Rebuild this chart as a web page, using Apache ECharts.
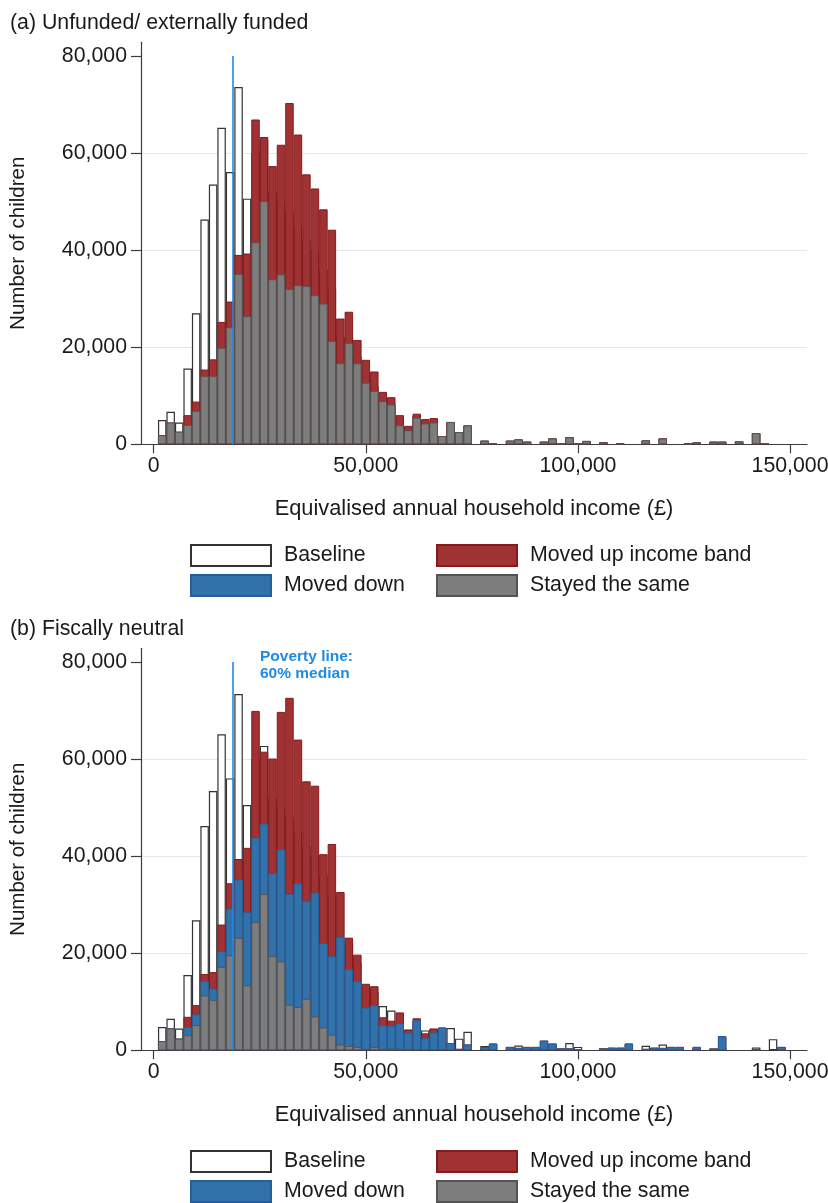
<!DOCTYPE html>
<html><head><meta charset="utf-8">
<script src="https://cdn.jsdelivr.net/npm/echarts@6/dist/echarts.min.js"></script>
<style>html,body{margin:0;padding:0;background:#fff}#c{width:828px;height:1203px}</style>
</head><body><div id="c"></div>
<script>
// Bin centres (£), bin width 2,000
const binCenters = [2000,4000,6000,8000,10000,12000,14000,16000,18000,20000,22000,24000,26000,28000,30000,32000,34000,36000,38000,40000,42000,44000,46000,48000,50000,52000,54000,56000,58000,60000,62000,64000,66000,68000,70000,72000,74000,76000,78000,80000,82000,84000,86000,88000,90000,92000,94000,96000,98000,100000,102000,104000,106000,108000,110000,112000,114000,116000,118000,120000,122000,124000,126000,128000,130000,132000,134000,136000,138000,140000,142000,144000,146000,148000,150000];
const binWidth = 2000;
const povertyLine = 18600;
const xTicks = [0, 50000, 100000, 150000];
const yTicks = [0, 20000, 40000, 60000, 80000];

// Panel (a) Unfunded / externally funded
const baselineA = [5000,6700,4500,15600,27000,46300,53500,65200,56100,73600,50600,60000,62700,52000,50000,48000,45000,42000,40000,36000,32000,22000,22000,18000,14000,12000,9100,8200,5500,3500,5800,4100,4500,1700,4500,2400,3800,0,750,200,0,750,1000,550,0,550,1200,100,1450,150,700,0,400,0,200,0,0,800,0,1200,0,0,150,400,0,550,550,0,600,0,2300,250,0,0,0];
const stayedA = [1900,4500,2600,4000,6900,14100,14100,19900,24100,35100,26400,41600,50100,34000,35000,32000,32800,32600,30700,29000,21300,16700,20900,16700,12700,11000,8900,8200,3900,2900,5500,4300,4500,1700,4600,2500,3900,0,750,200,0,750,1000,550,0,550,1200,100,1450,150,700,0,400,0,200,0,0,800,0,1200,0,0,150,400,0,550,550,0,600,0,2300,250,0,0,0];
const movedUpA = [0,0,0,2000,1900,1300,3400,5300,5300,3900,12900,25300,13200,23300,26700,38300,31000,23000,22000,19400,22900,9200,6400,4800,4700,4000,1900,1500,2100,900,800,900,900,0,0,0,0,0,0,0,0,0,0,0,0,0,0,0,0,0,0,0,0,0,0,0,0,0,0,0,0,0,0,0,0,0,0,0,0,0,0,0,0,0,0];

// Panel (b) Fiscally neutral
const baselineB = [4800,6500,4500,15500,26800,46200,53400,65100,56000,73400,50500,60000,62700,52000,50000,48000,45000,42000,40000,36000,32000,22000,22000,18000,13000,12000,9100,8200,5500,3500,5800,4100,4400,1700,4600,2400,3800,0,900,200,0,700,1000,500,0,500,1200,100,1500,700,0,0,400,0,200,0,0,950,0,1200,0,0,0,400,0,400,550,0,0,0,600,0,2300,0,0];
const stayedB = [1900,4500,2400,3100,5200,11300,10400,17200,19600,23200,13400,26400,32200,19400,18300,9400,8900,10600,7000,4700,3200,1200,900,700,300,700,300,400,300,200,0,0,0,0,0,0,0,0,0,0,0,0,0,0,0,0,0,0,0,0,0,0,400,0,0,0,0,0,0,0,0,0,0,0,0,300,0,0,0,0,300,0,0,0,0];
const movedDownB = [0,0,0,1700,2200,3000,2300,3200,9600,12000,15100,17400,14500,17100,23100,22800,25500,20200,25500,17400,16200,22200,15800,13500,8500,8600,4900,4700,5300,3500,6200,2500,3700,4700,1500,300,1200,0,700,1400,0,700,500,700,700,2000,1400,400,400,200,0,0,0,550,550,1400,0,300,550,500,700,700,0,700,0,0,2900,0,0,0,0,0,0,700,0];
const movedUpB = [0,0,0,2100,1900,1400,3400,5500,5200,4200,13200,26100,14800,23600,28300,40400,29600,24600,22000,18300,23100,9200,6500,5500,4900,3900,1600,1000,2200,600,400,1000,800,0,0,0,0,0,0,0,0,0,0,0,0,0,0,0,0,0,0,0,0,0,0,0,0,0,0,0,0,0,0,0,0,0,0,0,0,0,0,0,0,0,0];

const FONT = "'Liberation Sans', Arial, Helvetica, sans-serif";
const FS = 21.3;
const TXT = '#1a1a1a';
const AX = '#3c3c3c';
const X_MIN = -3000, X_MAX = 154000, Y_MAX = 82800;
const GRID_LEFT = 141, GRID_W = 666, GRID_H = 402;
const barW = GRID_W * binWidth / (X_MAX - X_MIN);

const styles = {
  'Baseline': {color: '#ffffff', borderColor: '#333333', borderWidth: 1.2},
  'Moved up income band': {color: '#a03234', borderColor: '#861b1d', borderWidth: 1},
  'Moved down': {color: '#3272ab', borderColor: '#245f9c', borderWidth: 1},
  'Stayed the same': {color: '#7d7d7d', borderColor: '#545454', borderWidth: 1}
};

// cumulative tops (stacking order: stayed, then moved down, then moved up)
function addArr() {
  const arrs = Array.prototype.slice.call(arguments);
  return binCenters.map((_, i) => arrs.reduce((s, a) => s + a[i], 0));
}
function pairs(vals) {
  return binCenters.map((x, i) => [x, vals[i] === 0 ? null : vals[i]]);
}
function barSeries(name, vals, idx, z) {
  return {
    type: 'bar', name: name, xAxisIndex: idx, yAxisIndex: idx,
    data: pairs(vals), barWidth: barW, barGap: '-100%',
    itemStyle: styles[name], z: z, silent: true, animation: false
  };
}
function povertyMark() {
  return {
    symbol: ['none', 'none'], silent: true, animation: false,
    lineStyle: {color: '#1f8ae6', width: 1.6, type: 'solid'},
    label: {show: false},
    data: [[{coord: [povertyLine, 0]}, {coord: [povertyLine, yTicks[yTicks.length - 1]]}]]
  };
}

function xAxis(idx) {
  return {
    type: 'value', gridIndex: idx, min: X_MIN, max: X_MAX,
    name: 'Equivalised annual household income (£)', nameLocation: 'middle', nameGap: 54,
    nameTextStyle: {fontFamily: FONT, fontSize: 21.8, color: TXT},
    axisLine: {show: true, onZero: false, lineStyle: {color: AX, width: 1.2}},
    axisTick: {show: true, length: 9, customValues: xTicks, lineStyle: {color: AX, width: 1.2}},
    axisLabel: {customValues: xTicks, margin: 11, fontFamily: FONT, fontSize: FS, color: TXT,
      formatter: v => v.toLocaleString('en-GB')},
    splitLine: {show: false}
  };
}
function yAxis(idx) {
  return {
    type: 'value', gridIndex: idx, min: 0, max: Y_MAX, interval: 20000,
    name: 'Number of children', nameLocation: 'middle', nameGap: 112,
    nameTextStyle: {fontFamily: FONT, fontSize: 20.5, color: TXT},
    axisLine: {show: true, onZero: false, lineStyle: {color: AX, width: 1.2}},
    axisTick: {show: true, length: 10, customValues: yTicks, lineStyle: {color: AX, width: 1.2}},
    axisLabel: {customValues: yTicks, margin: 14, fontFamily: FONT, fontSize: FS, color: TXT,
      formatter: v => v.toLocaleString('en-GB')},
    splitLine: {show: true, showMinLine: false, showMaxLine: false, lineStyle: {color: '#e2eaf0', width: 1}}
  };
}
function legends(top) {
  const common = {orient: 'vertical', top: top, height: 60, padding: 0, itemWidth: 80, itemHeight: 21, itemGap: 7, icon: 'rect',
    selectedMode: false, textStyle: {fontFamily: FONT, fontSize: FS, color: TXT, padding: [0, 0, 0, 8]}};
  return [
    Object.assign({}, common, {left: 190, data: ['Baseline', 'Moved down']}),
    Object.assign({}, common, {left: 436, data: ['Moved up income band', 'Stayed the same']})
  ];
}

const sA = [
  barSeries('Baseline', baselineA, 0, 1),
  barSeries('Moved up income band', addArr(stayedA, movedUpA), 0, 2),
  Object.assign(barSeries('Stayed the same', stayedA, 0, 3), {markLine: povertyMark()})
];
const sB = [
  barSeries('Baseline', baselineB, 1, 1),
  barSeries('Moved up income band', addArr(stayedB, movedDownB, movedUpB), 1, 2),
  barSeries('Moved down', addArr(stayedB, movedDownB), 1, 3),
  Object.assign(barSeries('Stayed the same', stayedB, 1, 4), {markLine: povertyMark()})
];

const chart = echarts.init(document.getElementById('c'), null, {renderer: 'canvas'});
chart.setOption({
  backgroundColor: '#ffffff',
  animation: false,
  title: [
    {text: '(a) Unfunded/ externally funded', left: 5, top: 8, textStyle: {fontFamily: FONT, fontSize: FS, fontWeight: 'normal', color: TXT}},
    {text: '(b) Fiscally neutral', left: 5, top: 614, textStyle: {fontFamily: FONT, fontSize: FS, fontWeight: 'normal', color: TXT}}
  ],
  grid: [
    {left: GRID_LEFT, top: 42.3, width: GRID_W, height: GRID_H, outerBoundsMode: 'none'},
    {left: GRID_LEFT, top: 648.3, width: GRID_W, height: GRID_H, outerBoundsMode: 'none'}
  ],
  xAxis: [xAxis(0), xAxis(1)],
  yAxis: [yAxis(0), yAxis(1)],
  legend: legends(544).concat(legends(1150)),
  graphic: [{
    type: 'text', left: 260, top: 648,
    style: {text: 'Poverty line:\n60% median', fill: '#1f8ae6', font: 'bold 15.5px ' + FONT, lineHeight: 17}
  }],
  series: sA.concat(sB)
});
</script></body></html>
